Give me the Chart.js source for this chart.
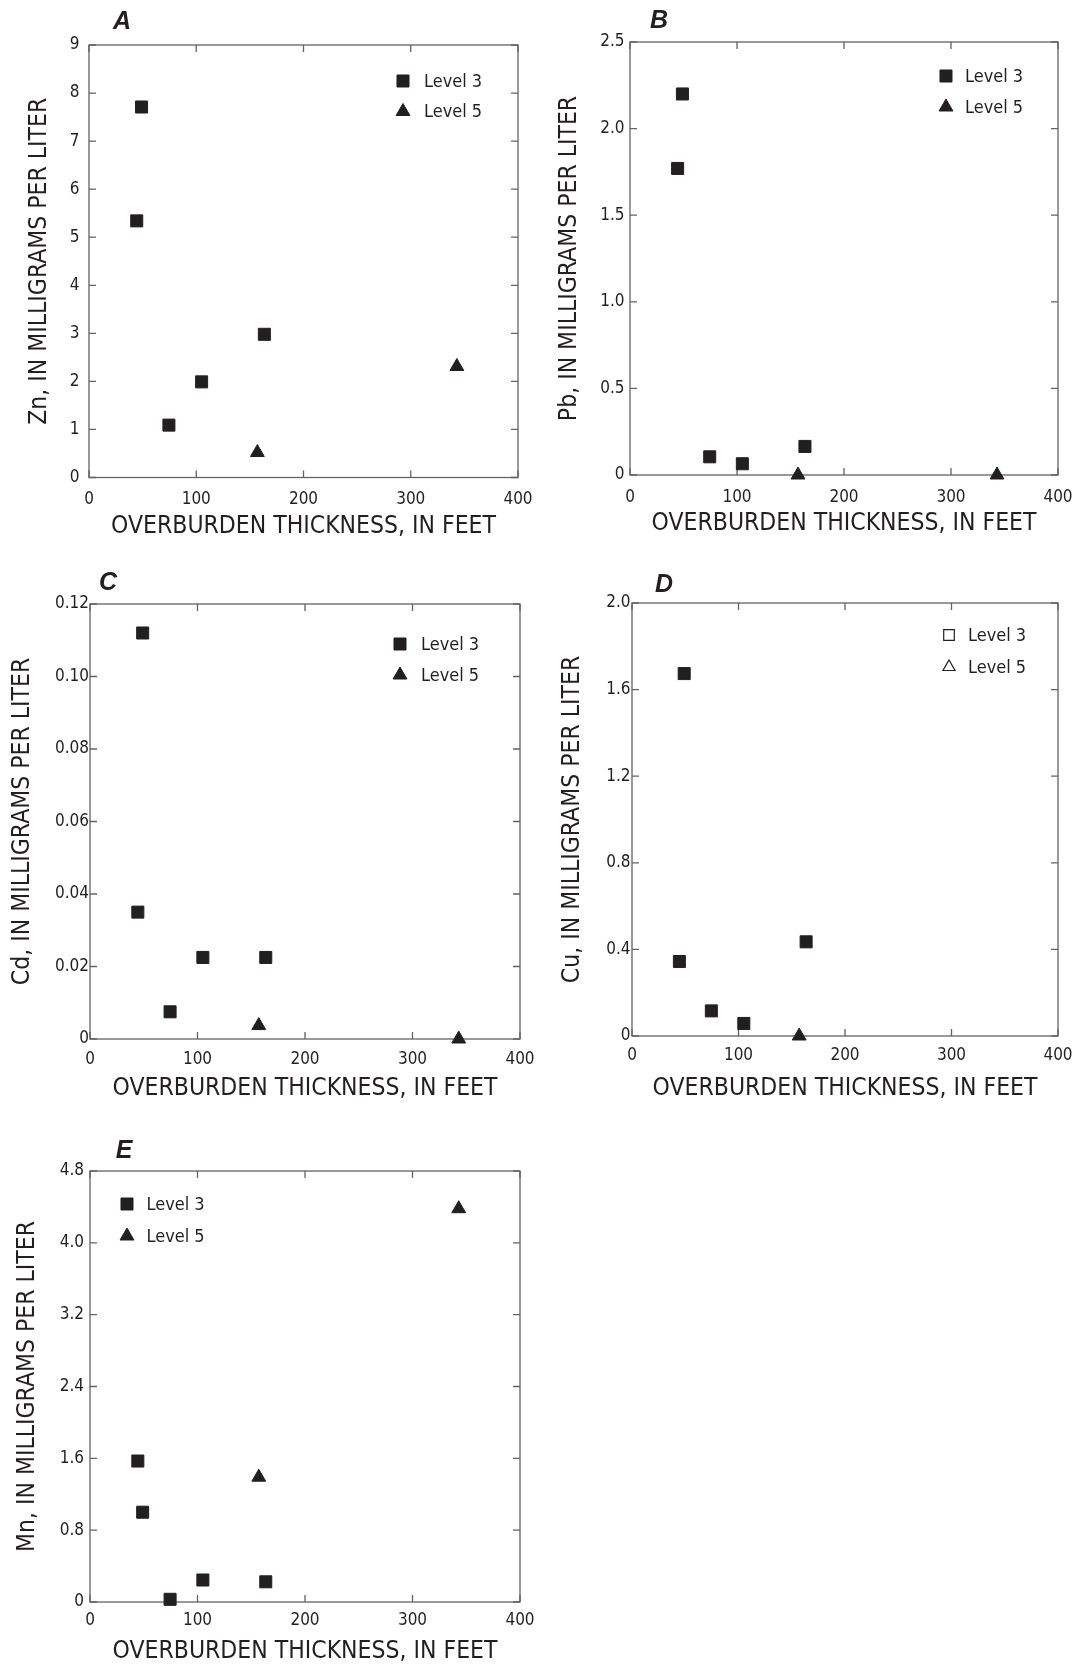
<!DOCTYPE html>
<html>
<head>
<meta charset="utf-8">
<title>Metals vs overburden thickness</title>
<script src="https://cdn.jsdelivr.net/npm/chart.js@4.4.1/dist/chart.umd.min.js"></script>
<style>
  html, body { margin: 0; padding: 0; background: #fff; }
  #page { position: relative; width: 1085px; height: 1665px; overflow: hidden; }
  #page canvas { position: absolute; }
</style>
</head>
<body>
<div id="page">
  <canvas id="zn"></canvas>
  <canvas id="pb"></canvas>
  <canvas id="cd"></canvas>
  <canvas id="cu"></canvas>
  <canvas id="mn"></canvas>
</div>
<script>
// overburden thickness (feet) at the sampled sites
const level3Thickness = [44.5, 49, 74.5, 105, 163.5];
const level5Thickness = [157, 343];

// dissolved metals, milligrams per liter
const znLevel3 = [5.34, 7.71, 1.09, 1.99, 2.98];
const znLevel5 = [0.52, 2.31];
const pbLevel3 = [1.77, 2.2, 0.105, 0.065, 0.165];
const pbLevel5 = [0, 0];
const cdLevel3 = [0.035, 0.112, 0.0075, 0.0225, 0.0225];
const cdLevel5 = [0.0037, 0];
const cuLevel3 = [0.344, 1.674, 0.116, 0.058, 0.435];
const cuLevel5 = [0, null];
const mnLevel3 = [1.57, 1.0, 0.03, 0.245, 0.225];
const mnLevel5 = [1.39, 4.38];

// axis ticks
const thicknessTicks = [0, 100, 200, 300, 400];
const thicknessLabels = ['0', '100', '200', '300', '400'];
const znTicks = [0, 1, 2, 3, 4, 5, 6, 7, 8, 9];
const znLabels = ['0', '1', '2', '3', '4', '5', '6', '7', '8', '9'];
const pbTicks = [0, 0.5, 1, 1.5, 2, 2.5];
const pbLabels = ['0', '0.5', '1.0', '1.5', '2.0', '2.5'];
const cdTicks = [0, 0.02, 0.04, 0.06, 0.08, 0.1, 0.12];
const cdLabels = ['0', '0.02', '0.04', '0.06', '0.08', '0.10', '0.12'];
const cuTicks = [0, 0.4, 0.8, 1.2, 1.6, 2];
const cuLabels = ['0', '0.4', '0.8', '1.2', '1.6', '2.0'];
const mnTicks = [0, 0.8, 1.6, 2.4, 3.2, 4, 4.8];
const mnLabels = ['0', '0.8', '1.6', '2.4', '3.2', '4.0', '4.8'];

const NARROW = "'Liberation Sans Narrow', 'Arial Narrow', 'DejaVu Sans Condensed', sans-serif";
const INK = '#231f20';
const FRAME = '#626366';

// page layout: canvas box and plot box (page pixels), title/label placement
const panels = [
  { id: 'zn', letter: 'A', element: 'Zn', l3: znLevel3, l5: znLevel5, yTicks: znTicks, yLabels: znLabels,
    canvas: [0, 0, 545, 560], plot: [89, 45, 518, 477.5], letterAt: [122, 22],
    yTitleX: 40, xTitleY: 527, yPad: 9.5, xPad: 12,
    legend: { side: 'right', dx: -115, dy: 36, gap: 21, row: 30.5, open: false } },
  { id: 'pb', letter: 'B', element: 'Pb', l3: pbLevel3, l5: pbLevel5, yTicks: pbTicks, yLabels: pbLabels,
    canvas: [545, 0, 540, 560], plot: [630, 42, 1058, 475], letterAt: [659, 21],
    yTitleX: 570, xTitleY: 524, yPad: 5.5, xPad: 12,
    legend: { side: 'right', dx: -112, dy: 34, gap: 19, row: 31, open: false } },
  { id: 'cd', letter: 'C', element: 'Cd', l3: cdLevel3, l5: cdLevel5, yTicks: cdTicks, yLabels: cdLabels,
    canvas: [0, 560, 545, 560], plot: [90, 604, 520, 1039], letterAt: [108, 583],
    yTitleX: 23, xTitleY: 1089, yPad: 1, xPad: 10,
    legend: { side: 'right', dx: -120, dy: 40, gap: 21, row: 31, open: false } },
  { id: 'cu', letter: 'D', element: 'Cu', l3: cuLevel3, l5: cuLevel5, yTicks: cuTicks, yLabels: cuLabels,
    canvas: [545, 560, 540, 560], plot: [632, 603, 1058, 1036], letterAt: [664, 585],
    yTitleX: 573, xTitleY: 1089, yPad: 1.5, xPad: 9,
    legend: { side: 'right', dx: -109, dy: 32, gap: 19, row: 32, open: true } },
  { id: 'mn', letter: 'E', element: 'Mn', l3: mnLevel3, l5: mnLevel5, yTicks: mnTicks, yLabels: mnLabels,
    canvas: [0, 1120, 545, 545], plot: [90, 1171, 520, 1602], letterAt: [124, 1151],
    yTitleX: 28, xTitleY: 1652, yPad: 6, xPad: 8,
    legend: { side: 'left', dx: 37, dy: 33, gap: 19.5, row: 32, open: false } }
];

// box frame with inward tick marks on all four sides, plus the panel letter
const frameTicks = {
  id: 'frameTicks',
  beforeDatasetsDraw(chart, args, opts) {
    const { ctx, chartArea: a, scales } = chart;
    ctx.save();
    ctx.strokeStyle = FRAME;
    ctx.lineWidth = 1.3;
    ctx.strokeRect(a.left, a.top, a.right - a.left, a.bottom - a.top);
    ctx.beginPath();
    scales.x.ticks.forEach(t => {
      const px = scales.x.getPixelForValue(t.value);
      ctx.moveTo(px, a.bottom); ctx.lineTo(px, a.bottom - 7);
      ctx.moveTo(px, a.top); ctx.lineTo(px, a.top + 7);
    });
    scales.y.ticks.forEach(t => {
      const py = scales.y.getPixelForValue(t.value);
      ctx.moveTo(a.left, py); ctx.lineTo(a.left + 7, py);
      ctx.moveTo(a.right, py); ctx.lineTo(a.right - 7, py);
    });
    ctx.stroke();
    ctx.fillStyle = INK;
    ctx.font = "italic bold 25px 'Liberation Sans', Arial, sans-serif";
    ctx.textAlign = 'center';
    ctx.textBaseline = 'middle';
    ctx.fillText(opts.letter, opts.x, opts.y);
    ctx.restore();
  }
};

// legend placed inside the plot box
const boxLegend = {
  id: 'boxLegend',
  afterDatasetsDraw(chart, args, opts) {
    const { ctx, chartArea: a } = chart;
    const x0 = (opts.side === 'left' ? a.left : a.right) + opts.dx;
    chart.data.datasets.forEach((ds, i) => {
      const y = a.top + opts.dy + i * opts.row;
      ctx.save();
      ctx.fillStyle = opts.open ? '#fff' : ds.backgroundColor;
      ctx.strokeStyle = ds.borderColor;
      ctx.lineWidth = opts.open ? 1.2 : ds.borderWidth;
      Chart.helpers.drawPoint(ctx, {
        pointStyle: ds.pointStyle,
        radius: opts.open ? ds.pointRadius - 1 : ds.pointRadius,
        borderWidth: ctx.lineWidth,
        rotation: 0
      }, x0, y);
      ctx.fillStyle = INK;
      ctx.font = '18px ' + NARROW;
      ctx.textAlign = 'left';
      ctx.textBaseline = 'middle';
      ctx.fillText(ds.label, x0 + opts.gap, y + 1);
      ctx.restore();
    });
  }
};

function points(xs, ys) {
  return xs.map((x, i) => ({ x: x, y: ys[i] }));
}

panels.forEach(p => {
  const [cx, cy, cw, ch] = p.canvas;
  const [pl, pt, pr, pb] = p.plot;
  const canvas = document.getElementById(p.id);
  canvas.width = cw;
  canvas.height = ch;
  canvas.style.left = cx + 'px';
  canvas.style.top = cy + 'px';

  const titleFont = { family: NARROW, size: 24.5 };
  const half = titleFont.size * 1.2 / 2;
  const yWidth = pl - cx;
  const xHeight = p.xTitleY + half - pb;

  new Chart(canvas, {
    type: 'scatter',
    data: {
      datasets: [
        {
          label: 'Level 3',
          data: points(level3Thickness, p.l3),
          pointStyle: 'rect',
          pointRadius: 8.5,
          backgroundColor: INK,
          borderColor: INK,
          borderWidth: 1,
          clip: false
        },
        {
          label: 'Level 5',
          data: points(level5Thickness, p.l5),
          pointStyle: 'triangle',
          pointRadius: 8,
          backgroundColor: INK,
          borderColor: INK,
          borderWidth: 1,
          clip: false
        }
      ]
    },
    options: {
      responsive: false,
      animation: false,
      devicePixelRatio: 1,
      layout: {
        padding: { left: 0, top: pt - cy, right: cx + cw - pr, bottom: cy + ch - pb - xHeight }
      },
      scales: {
        x: {
          type: 'linear',
          min: 0,
          max: 400,
          grid: { display: false, drawTicks: false },
          border: { display: false },
          afterBuildTicks: s => { s.ticks = thicknessTicks.map(v => ({ value: v })); },
          afterFit: s => { s.height = xHeight; },
          ticks: {
            color: INK,
            font: { family: NARROW, size: 17 },
            padding: p.xPad,
            maxRotation: 0,
            callback: (v, i) => thicknessLabels[i]
          },
          title: {
            display: true,
            text: 'OVERBURDEN THICKNESS, IN FEET',
            color: INK,
            font: titleFont,
            padding: 0
          }
        },
        y: {
          type: 'linear',
          min: p.yTicks[0],
          max: p.yTicks[p.yTicks.length - 1],
          grid: { display: false, drawTicks: false },
          border: { display: false },
          afterBuildTicks: s => { s.ticks = p.yTicks.map(v => ({ value: v })); },
          afterFit: s => { s.width = yWidth; },
          ticks: {
            color: INK,
            font: { family: NARROW, size: 17 },
            padding: p.yPad,
            callback: (v, i) => p.yLabels[i]
          },
          title: {
            display: true,
            text: p.element + ', IN MILLIGRAMS PER LITER',
            color: INK,
            font: titleFont,
            padding: { top: p.yTitleX - cx - half, bottom: 0 }
          }
        }
      },
      plugins: {
        legend: { display: false },
        tooltip: { enabled: false },
        frameTicks: { letter: p.letter, x: p.letterAt[0] - cx, y: p.letterAt[1] - cy },
        boxLegend: p.legend
      }
    },
    plugins: [frameTicks, boxLegend]
  });
});
</script>
</body>
</html>
